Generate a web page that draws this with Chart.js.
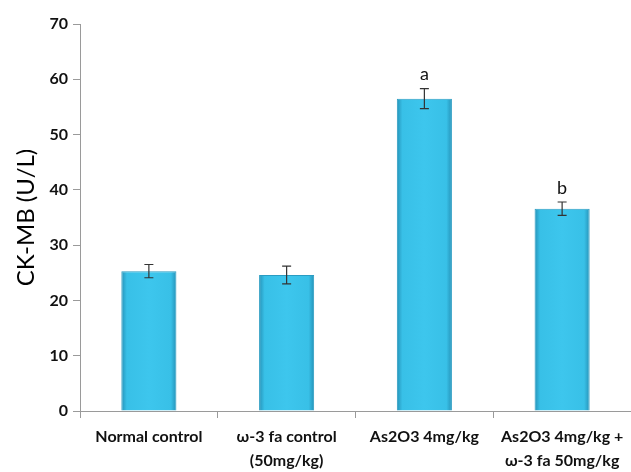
<!DOCTYPE html>
<html>
<head>
<meta charset="utf-8">
<script src="https://cdn.jsdelivr.net/npm/chart.js@4"></script>
<style>
html,body{margin:0;padding:0;background:#fff;}
#wrap{width:631px;height:472px;position:relative;}
</style>
</head>
<body>
<div id="wrap"><canvas id="c" width="631" height="472"></canvas></div>
<script>
const categories = [["Normal control"], ["ω-3 fa control", "(50mg/kg)"], ["As2O3 4mg/kg"], ["As2O3 4mg/kg +", "ω-3 fa 50mg/kg"]];
const values = [25.3, 24.6, 56.5, 36.6];
const errors = [1.2, 1.6, 1.8, 1.2];
const letters = ["", "", "a", "b"];
const yTicks = [0, 10, 20, 30, 40, 50, 60, 70];

const FONT = "Lato, 'Open Sans', sans-serif";

function barGradient(ctx) {
  const chart = ctx.chart;
  const xs = chart.scales && chart.scales.x;
  if (!chart.chartArea || !xs) return '#38c2e8';
  const cx = xs.getPixelForValue(ctx.dataIndex);
  const w = (xs.width / categories.length) * 0.4;
  const g = chart.ctx.createLinearGradient(cx - w / 2, 0, cx + w / 2, 0);
  g.addColorStop(0, '#2592b8');
  g.addColorStop(0.1, '#38c0e7');
  g.addColorStop(0.5, '#3dc6ed');
  g.addColorStop(0.9, '#38c0e7');
  g.addColorStop(1, '#2592b8');
  return g;
}

const errorPlugin = {
  id: 'errorBars',
  afterDatasetsDraw(chart) {
    const c = chart.ctx;
    const meta = chart.getDatasetMeta(0);
    const ys = chart.scales.y;
    c.save();
    c.strokeStyle = '#333';
    c.lineWidth = 1.2;
    meta.data.forEach((el, i) => {
      const x = el.x;
      const yt = ys.getPixelForValue(values[i] + errors[i]);
      const yb = ys.getPixelForValue(values[i] - errors[i]);
      c.beginPath();
      c.moveTo(x, yt); c.lineTo(x, yb);
      c.moveTo(x - 4.5, yt); c.lineTo(x + 4.5, yt);
      c.moveTo(x - 4.5, yb); c.lineTo(x + 4.5, yb);
      c.stroke();
      if (letters[i]) {
        c.fillStyle = '#111';
        c.font = "18px " + FONT;
        c.textAlign = 'center';
        c.textBaseline = 'bottom';
        c.fillText(letters[i], x, yt - 5);
      }
    });
    c.restore();
  }
};

new Chart(document.getElementById('c'), {
  type: 'bar',
  data: {
    labels: categories,
    datasets: [{
      data: values,
      backgroundColor: barGradient,
      borderColor: '#2a9cc2',
      borderWidth: 1,
      categoryPercentage: 0.4,
      barPercentage: 1.0
    }]
  },
  options: {
    responsive: false,
    animation: false,
    devicePixelRatio: 1,
    layout: { padding: { top: 24, right: 0, left: 0, bottom: 0 } },
    plugins: { legend: { display: false }, tooltip: { enabled: false } },
    scales: {
      x: {
        offset: true,
        grid: { display: true, drawOnChartArea: false, offset: true, color: '#9a9a9a', tickLength: 7 },
        border: { display: true, color: '#9a9a9a', width: 1 },
        ticks: {
          color: '#111',
          font: { family: FONT, size: 16, weight: 'bold', lineHeight: 1.5 },
          padding: 7,
          maxRotation: 0, autoSkip: false
        },
        afterFit(scale) { scale.height = 61; }
      },
      y: {
        min: 0, max: 70,
        afterBuildTicks(scale) { scale.ticks = yTicks.map(v => ({ value: v })); },
        grid: { display: true, drawOnChartArea: false, color: '#9a9a9a', tickLength: 7 },
        border: { display: true, color: '#9a9a9a', width: 1 },
        ticks: {
          color: '#111',
          font: { family: FONT, size: 16, weight: 'bold' },
          padding: 5
        },
        title: {
          display: true,
          text: 'CK-MB (U/L)',
          color: '#000',
          font: { family: FONT, size: 24, weight: 'normal' },
          padding: { top: 12, bottom: 0 }
        },
        afterFit(scale) { scale.width = 80; }
      }
    }
  },
  plugins: [errorPlugin]
});
</script>
</body>
</html>
